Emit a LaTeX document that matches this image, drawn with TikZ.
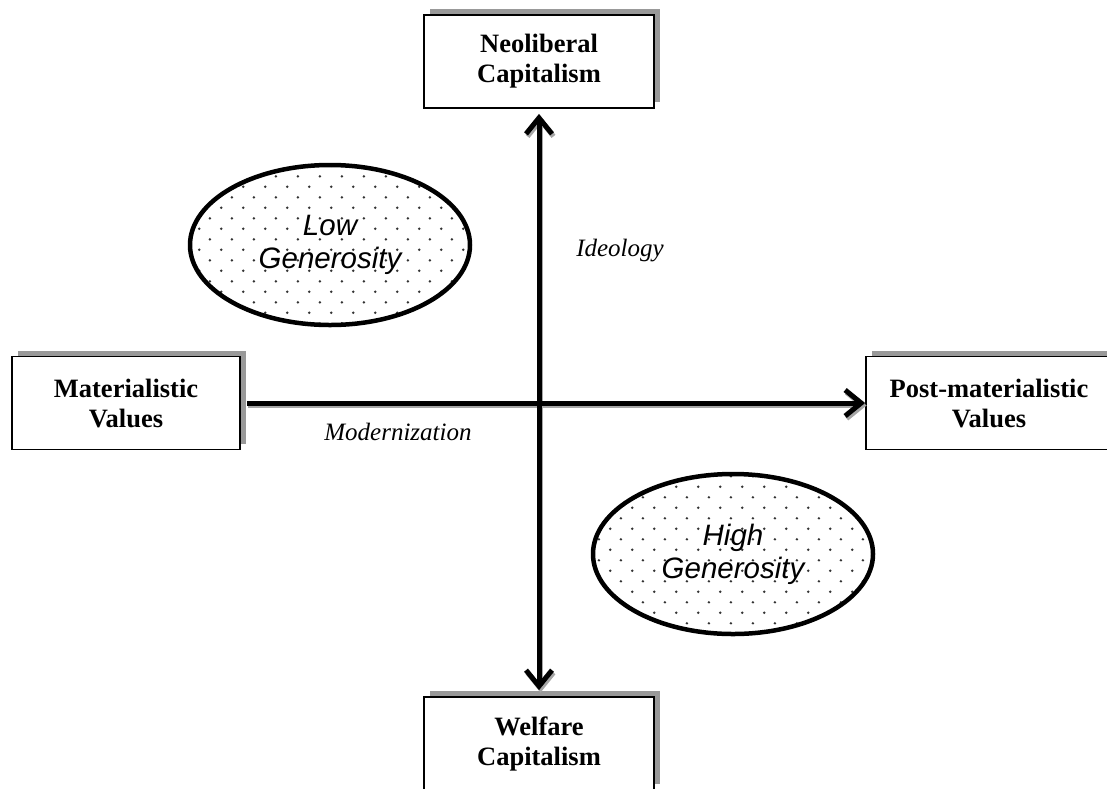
\documentclass[tikz,border=0pt]{standalone}
\usepackage{fontspec}
\setmainfont{Liberation Serif}
\newfontfamily\arialfont{Liberation Sans}
\usetikzlibrary{arrows.meta,shadows,patterns.meta,shapes.geometric}

\tikzdeclarepattern{
  name=sparsedots,
  type=uncolored,
  bottom left={(0pt,0pt)},
  top right={(21.6pt,21.4pt)},
  tile size={(21.6pt,21.4pt)},
  code={
    \fill (5.4pt,5.35pt) circle (1.4pt);
    \fill (16.2pt,16.05pt) circle (1.4pt);
  }
}

\begin{document}
\begin{tikzpicture}[x=1pt,y=-1pt,
    valuebox/.style={draw,line width=1.8pt,fill=white,minimum width=230pt,
      minimum height=93pt,align=center,
      font=\fontsize{26.5}{30}\selectfont\bfseries,
      drop shadow={shadow xshift=6pt,shadow yshift=6pt,fill=black!40,opacity=1}},
    blob/.style={ellipse,draw,line width=4.5pt,minimum width=280pt,
      minimum height=160pt,align=center,pattern=sparsedots,
      pattern color=black!80,
      font=\arialfont\itshape\fontsize{29.5}{33}\selectfont},
    barb/.tip={Straight Barb[length=16pt,width=26pt,line width=5pt]},
    axis/.style={line width=5pt},
    axislabel/.style={font=\itshape\fontsize{25}{28}\selectfont}]
  \useasboundingbox (0,0) rectangle (1107,788);

  % the four poles
  \node[valuebox] (neo) at (539,61.5) {Neoliberal\\Capitalism};
  \node[valuebox] (wel) at (539,743.5) {Welfare\\Capitalism};
  \node[valuebox,minimum width=228pt] (mat) at (126,403) {Materialistic\\Values};
  \node[valuebox,minimum width=246pt] (post) at (989,403) {Post-materialistic\\Values};

  % the two regions
  \node[blob] (low) at (330,245) {Low\\Generosity};
  \node[blob] (high) at (733,554) {High\\Generosity};

  % axes, gray shadow first
  \begin{scope}[transform canvas={xshift=1.5pt,yshift=-2.5pt},axis,draw=black!35]
    \draw[barb-barb] ([yshift=-5pt]neo.south) -- ([yshift=6pt]wel.north);
    \draw[-barb] ([xshift=6pt]mat.east) -- (post.west);
  \end{scope}
  \draw[axis,barb-barb] ([yshift=-5pt]neo.south) -- ([yshift=6pt]wel.north);
  \draw[axis,-barb] ([xshift=6pt]mat.east) -- (post.west);
  \node[axislabel] (ideo) at (620,251) {Ideology};
  \node[axislabel] (modern) at (398,432) {Modernization};
\end{tikzpicture}
\end{document}
